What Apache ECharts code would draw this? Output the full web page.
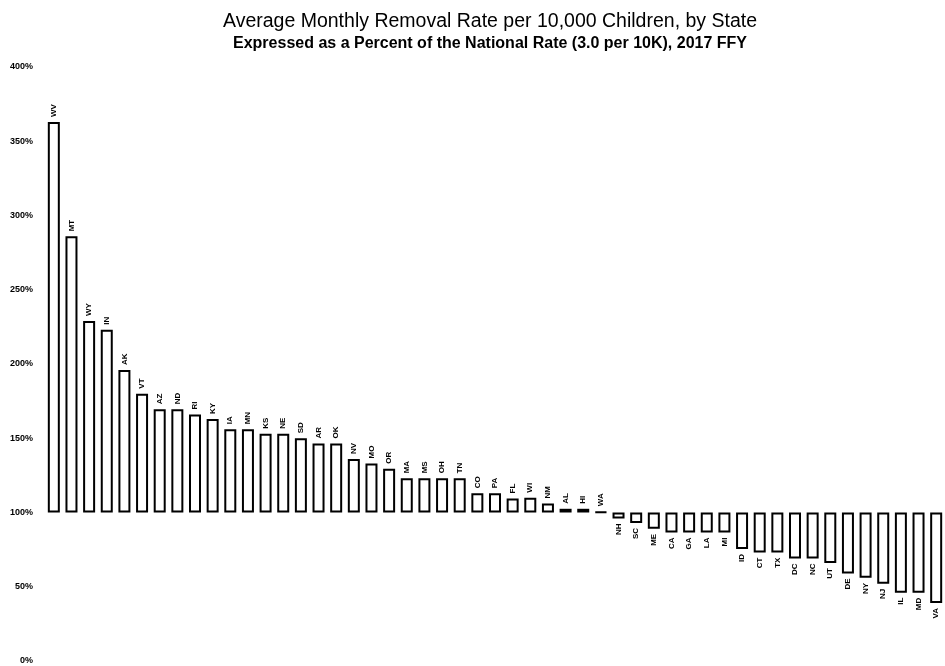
<!DOCTYPE html>
<html><head><meta charset="utf-8">
<script src="https://cdn.jsdelivr.net/npm/echarts@6/dist/echarts.min.js"></script>
<style>html,body{margin:0;padding:0;background:#fff}#c{width:945px;height:666px}</style>
</head><body><div id="c"></div>
<script>
const states = ["WV","MT","WY","IN","AK","VT","AZ","ND","RI","KY","IA","MN","KS","NE","SD","AR","OK","NV","MO","OR","MA","MS","OH","TN","CO","PA","FL","WI","NM","AL","HI","WA","NH","SC","ME","CA","GA","LA","MI","ID","CT","TX","DC","NC","UT","DE","NY","NJ","IL","MD","VA"];
const pctOfNational = [363,286,229,223,196,180,169.5,169.5,166,163,156,156,153,153,150,146.5,146.5,136,133,129.5,123,123,123,123,113,113,109.5,110,106,102.5,102.5,100.5,96,93,89,86.5,86.5,86.5,86.5,75.5,73,73,69,69,66,59,56,52,46,46,39];
const yTicks = [0,50,100,150,200,250,300,350,400];
const baseline = 100;

const chart = echarts.init(document.getElementById('c'), null, {renderer:'canvas'});
const data = pctOfNational.map(v => {
  const pos = v >= baseline;
  return {
    value: v - baseline,
    label: pos
      ? {position:'top', align:'left', verticalAlign:'middle', distance:5}
      : {position:'bottom', align:'right', verticalAlign:'middle', distance:5}
  };
});
chart.setOption({
  animation:false,
  backgroundColor:'#fff',
  title:{
    text:'Average Monthly Removal Rate per 10,000 Children, by State',
    subtext:'Expressed as a Percent of the National Rate (3.0 per 10K), 2017 FFY',
    left:485, textAlign:'center', top:7, itemGap:4,
    textStyle:{fontFamily:'Liberation Sans, Arial', fontSize:19.5, fontWeight:'normal', color:'#000'},
    subtextStyle:{fontFamily:'Liberation Sans, Arial', fontSize:16, fontWeight:'bold', color:'#000'}
  },
  grid:{left:45, right:-10, top:67, bottom:5, containLabel:false},
  xAxis:{type:'category', data:states, axisLine:{show:false}, axisTick:{show:false}, axisLabel:{show:false}},
  yAxis:{type:'value', min:yTicks[0]-baseline, max:yTicks[yTicks.length-1]-baseline, interval:50,
    axisLine:{show:false}, axisTick:{show:false}, splitLine:{show:false},
    axisLabel:{margin:12, fontFamily:'Liberation Sans, Arial', fontSize:9, fontWeight:'bold', color:'#000',
      formatter: v => (v + baseline) + '%'}},
  series:[{
    type:'bar', data:data, barWidth:12,
    itemStyle:{color:'#fff', borderColor:'#000', borderWidth:2},
    label:{show:true, rotate:90, formatter:p => states[p.dataIndex],
      fontFamily:'Liberation Sans, Arial', fontSize:8, fontWeight:'bold', color:'#000'}
  }]
});
</script></body></html>
